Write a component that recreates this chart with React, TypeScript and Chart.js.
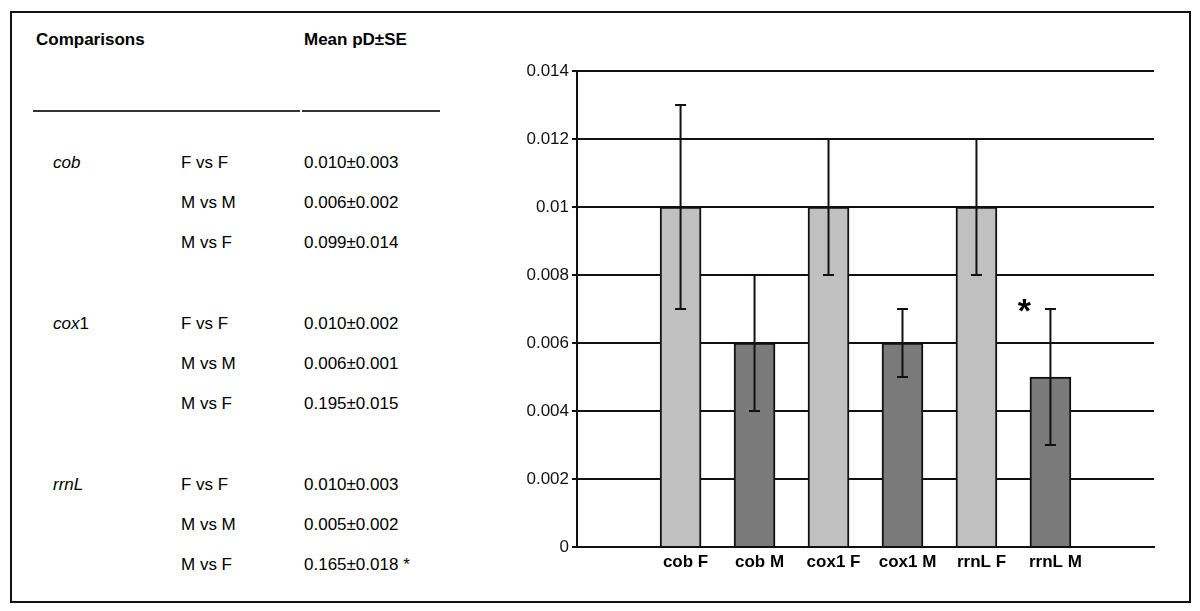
import React, { useEffect, useRef } from "react";
import { Chart, registerables } from "chart.js";

Chart.register(...registerables);

// ---- data ----
const categories = ["cob F", "cob M", "cox1 F", "cox1 M", "rrnL F", "rrnL M"];
const meanValues = [0.01, 0.006, 0.01, 0.006, 0.01, 0.005];
const errorValues = [0.003, 0.002, 0.002, 0.001, 0.002, 0.002];
const yTickLabels = ["0", "0.002", "0.004", "0.006", "0.008", "0.01", "0.012", "0.014"];
const significantIndex = 5;

const genes = ["cob", "cox1", "rrnL"];
const comparisons = ["F vs F", "M vs M", "M vs F"];
const tableValues = [
  ["0.010±0.003", "0.006±0.002", "0.099±0.014"],
  ["0.010±0.002", "0.006±0.001", "0.195±0.015"],
  ["0.010±0.003", "0.005±0.002", "0.165±0.018 *"],
];
const headers = ["Comparisons", "Mean pD±SE"];

// ---- styles ----
const FONT = "'Liberation Sans', Arial, Helvetica, sans-serif";
const LIGHT = "#c0c0c0";
const DARK = "#7a7a7a";

function GeneName({ name }: { name: string }) {
  const m = name.match(/^([A-Za-z]+)(\d*)$/);
  const letters = m ? m[1] : name;
  const digits = m ? m[2] : "";
  return (
    <span>
      <i>{letters}</i>
      {digits}
    </span>
  );
}

const textStyle = (left: number, centerY: number, bold = false): React.CSSProperties => ({
  position: "absolute",
  left,
  top: centerY - 10,
  fontFamily: FONT,
  fontSize: 17,
  lineHeight: "20px",
  fontWeight: bold ? 700 : 400,
  color: "#000",
  whiteSpace: "nowrap",
});

const errorBarPlugin = {
  id: "errorBars",
  afterDatasetsDraw(chart: any) {
    const { ctx, scales } = chart;
    const xs = scales.x;
    const ys = scales.y;
    ctx.save();
    ctx.strokeStyle = "#111";
    ctx.lineWidth = 2;
    meanValues.forEach((v, i) => {
      const x = xs.getPixelForValue(i);
      const yTop = ys.getPixelForValue(v + errorValues[i]);
      const yBot = ys.getPixelForValue(v - errorValues[i]);
      ctx.beginPath();
      ctx.moveTo(x, yTop);
      ctx.lineTo(x, yBot);
      ctx.moveTo(x - 5.5, yTop);
      ctx.lineTo(x + 5.5, yTop);
      ctx.moveTo(x - 5.5, yBot);
      ctx.lineTo(x + 5.5, yBot);
      ctx.stroke();
    });
    // significance asterisk
    const sx = xs.getPixelForValue(significantIndex) - 26;
    const sy = ys.getPixelForValue(meanValues[significantIndex] + errorValues[significantIndex]);
    ctx.fillStyle = "#000";
    ctx.font = `bold 34px ${FONT}`;
    ctx.textAlign = "center";
    ctx.textBaseline = "alphabetic";
    ctx.fillText("*", sx, sy + 13);
    ctx.restore();
  },
};

function BarChart() {
  const ref = useRef<HTMLCanvasElement | null>(null);
  useEffect(() => {
    if (!ref.current) return;
    const chart = new Chart(ref.current, {
      type: "bar",
      data: {
        datasets: [
          {
            data: meanValues.map((v, i) => ({ x: i, y: v })),
            backgroundColor: categories.map((c) => (c.endsWith("F") ? LIGHT : DARK)),
            borderColor: "#111",
            borderWidth: 2,
            barThickness: 41,
          },
        ],
      },
      plugins: [errorBarPlugin],
      options: {
        animation: false,
        responsive: false,
        devicePixelRatio: 1,
        layout: { padding: { top: 31, right: 26, left: 0, bottom: 0 } },
        plugins: { legend: { display: false }, tooltip: { enabled: false } },
        scales: {
          x: {
            type: "linear",
            min: -1.4,
            max: 6.4,
            offset: false,
            grid: { display: false, drawTicks: false, offset: false },
            border: { display: true, color: "#111", width: 2 },
            afterBuildTicks: (scale: any) => {
              scale.ticks = categories.map((_, i) => ({ value: i }));
            },
            afterFit: (scale: any) => {
              scale.height = 53;
            },
            ticks: {
              autoSkip: false,
              maxRotation: 0,
              padding: 5,
              labelOffset: 5,
              color: "#000",
              font: { family: FONT, size: 17, weight: "bold" },
              callback: (value: any) => categories[Number(value)] ?? "",
            },
          },
          y: {
            type: "linear",
            min: 0,
            max: 0.014,
            ticks: {
              stepSize: 0.002,
              padding: 3,
              color: "#111",
              font: { family: FONT, size: 17 },
              callback: (_v: any, index: number) => yTickLabels[index],
            },
            grid: { color: "#111", lineWidth: 2, tickLength: 5, drawTicks: true },
            border: { display: true, color: "#111", width: 2 },
            afterFit: (scale: any) => {
              scale.width = 77;
            },
          },
        },
      } as any,
    });
    return () => chart.destroy();
  }, []);
  return (
    <div style={{ position: "absolute", left: 500, top: 40, width: 680, height: 560 }}>
      <canvas ref={ref} width={680} height={560} style={{ width: 680, height: 560 }} />
    </div>
  );
}

export default function App() {
  const groupCenters = [163, 324, 485];
  const rowGap = 40;
  return (
    <div
      style={{
        position: "absolute",
        left: 0,
        top: 0,
        width: 1200,
        height: 611,
        background: "#fff",
        overflow: "hidden",
      }}
    >
      <div
        style={{
          position: "absolute",
          left: 10,
          top: 11,
          width: 1181,
          height: 592,
          border: "2px solid #111",
          boxSizing: "border-box",
        }}
      />
      <div style={textStyle(36, 40, true)}>{headers[0]}</div>
      <div style={textStyle(304, 40, true)}>{headers[1]}</div>
      <div
        style={{ position: "absolute", left: 33, top: 110, width: 267, height: 1.5, background: "#333" }}
      />
      <div
        style={{ position: "absolute", left: 302, top: 110, width: 138, height: 1.5, background: "#333" }}
      />
      {genes.map((g, gi) => (
        <React.Fragment key={g}>
          <div style={textStyle(53, groupCenters[gi])}>
            <GeneName name={g} />
          </div>
          {comparisons.map((c, ci) => (
            <React.Fragment key={c}>
              <div style={textStyle(181, groupCenters[gi] + ci * rowGap)}>{c}</div>
              <div style={textStyle(304, groupCenters[gi] + ci * rowGap)}>{tableValues[gi][ci]}</div>
            </React.Fragment>
          ))}
        </React.Fragment>
      ))}
      <BarChart />
    </div>
  );
}
